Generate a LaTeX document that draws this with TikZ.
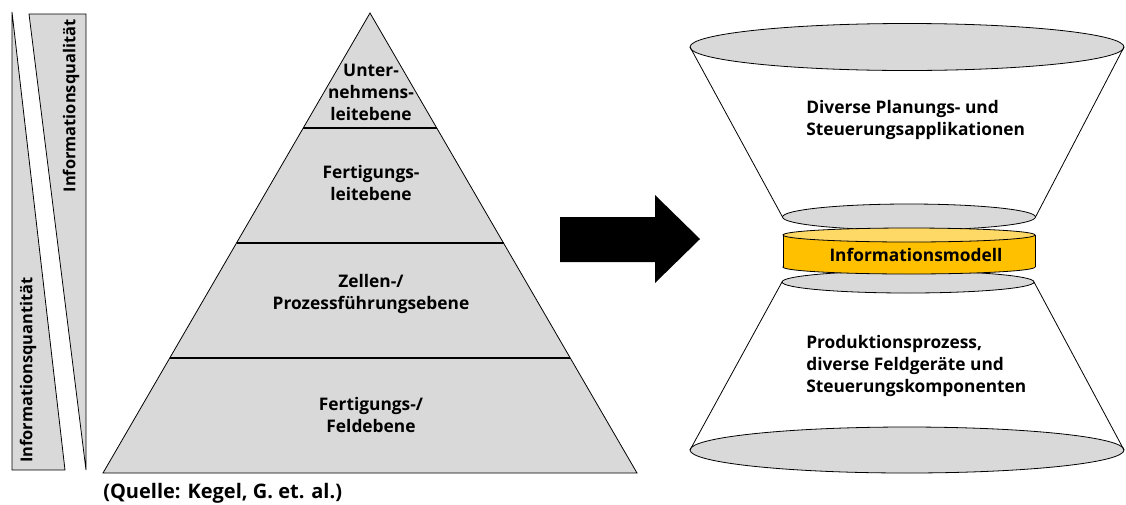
\documentclass[tikz,border=0pt]{standalone}
\usepackage{fontspec}
\setsansfont{Open Sans}
\usepackage{tikz}
\usetikzlibrary{shapes.geometric, positioning, calc}
\definecolor{levelgray}{HTML}{D9D9D9}
\definecolor{modelbody}{HTML}{FFC000}
\definecolor{modellid}{HTML}{FFD966}
\tikzstyle{level} = [fill=levelgray, draw=black, line width=0.6pt]
\tikzstyle{divider} = [line width=1.6pt]
\tikzstyle{txt} = [font=\sffamily\bfseries\fontsize{13}{16.5}\selectfont, align=center, inner sep=0pt]
\tikzstyle{bartxt} = [txt, font=\sffamily\bfseries\fontsize{12.3}{15}\selectfont, rotate=90]
\tikzstyle{disc} = [ellipse, draw=black, fill=levelgray, inner sep=0pt, outer sep=0pt, line width=0.6pt]
\tikzstyle{funnel} = [line width=0.6pt]

\begin{document}
\begin{tikzpicture}[x=0.75pt, y=-0.75pt]
\useasboundingbox (0,0) rectangle (1126,504);

% quantity / quality bars
\filldraw[level] (12,12) -- (12,470) -- (65,470) -- cycle;
\filldraw[level] (29,14) -- (86,14) -- (86,470) -- cycle;
\node[bartxt] (quant) at (28,370) {Informationsquantität};
\node[bartxt] (qual) at (71,106) {Informationsqualität};

% pyramid
\coordinate (apex) at (370,13);
\coordinate (baseL) at (103,473);
\coordinate (baseR) at (637,473);
\filldraw[level] (apex) -- (baseR) -- (baseL) -- cycle;
\foreach \f in {0.25,0.5,0.75}
  \draw[divider] ($(apex)!\f!(baseL)$) -- ($(apex)!\f!(baseR)$);

\node[txt] (lvl-1) at (371,92) {Unter-\\nehmens-\\leitebene};
\node[txt] (lvl-2) at (371,183) {Fertigungs-\\leitebene};
\node[txt] (lvl-3) at (371,294) {Zellen-/\\Prozessführungsebene};
\node[txt] (lvl-4) at (371,415) {Fertigungs-/\\Feldebene};
\node[txt, font=\sffamily\bfseries\fontsize{15}{18}\selectfont, anchor=west] (source) at (103,493) {(Quelle: Kegel, G. et. al.)};

% big arrow
\fill[black] (560,217) -- (655,217) -- (655,195) -- (700,239) -- (655,283) -- (655,262) -- (560,262) -- cycle;

% hourglass
\node[disc, minimum width=325.5pt, minimum height=35.25pt] (top) at (907,47) {};
\node[disc, minimum width=189.75pt, minimum height=19.5pt] (mid-1) at (909,217) {};
\node[disc, minimum width=189pt, minimum height=16.5pt] (mid-2) at (908,282) {};
\node[disc, minimum width=325.5pt, minimum height=34.5pt] (bottom) at (907,450) {};
\draw[funnel] (top.west) -- (mid-1.west);
\draw[funnel] (top.east) -- (mid-1.east);
\draw[funnel] (mid-2.west) -- (bottom.west);
\draw[funnel] (mid-2.east) -- (bottom.east);

% information model cylinder
\node[disc, fill=modelbody, minimum width=189pt, minimum height=10.5pt] (model-base) at (909,267) {};
\fill[modelbody] (model-base.west) rectangle (1035,235);
\draw[funnel] (model-base.west) -- ++(0,-32);
\draw[funnel] (model-base.east) -- ++(0,-32);
\node[disc, fill=modellid, minimum width=189pt, minimum height=10.5pt] (model-lid) at (909,235) {};
\node[txt] (model) at (916,255) {Informationsmodell};

\node[txt, align=left, anchor=west] (apps) at (806,120) {Diverse Planungs- und\\Steuerungsapplikationen};
\node[txt, align=left, anchor=west] (field) at (806,366) {Produktionsprozess,\\diverse Feldgeräte und\\Steuerungskomponenten};
\end{tikzpicture}
\end{document}
